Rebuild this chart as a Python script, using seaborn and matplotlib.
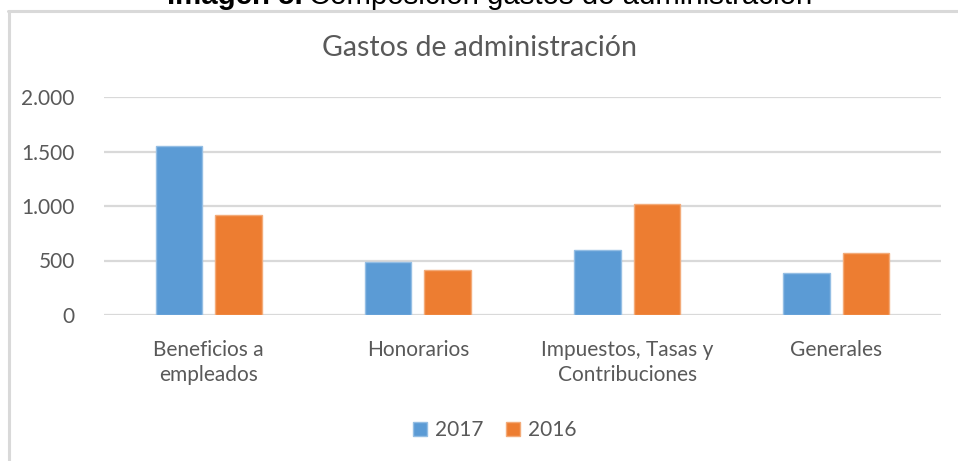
import matplotlib
matplotlib.use("Agg")
import matplotlib.pyplot as plt
from matplotlib.lines import Line2D
from matplotlib.colors import to_rgb
import pandas as pd
import seaborn as sns

categories = ["Beneficios a\nempleados", "Honorarios", "Impuestos, Tasas y\nContribuciones", "Generales"]
years = ["2017", "2016"]
values_2017 = [1555, 485, 592, 383]
values_2016 = [921, 415, 1017, 570]
yticks = [0, 500, 1000, 1500, 2000]
ytick_labels = ["0", "500", "1.000", "1.500", "2.000"]

colors = {"2017": "#5B9BD5", "2016": "#ED7D31"}
text_color = "#595959"
grid_color = "#D9D9D9"

df = pd.DataFrame({
    "categoria": categories * 2,
    "anio": ["2017"] * len(categories) + ["2016"] * len(categories),
    "valor": values_2017 + values_2016,
})

sns.set_theme(style="white")
plt.rcParams["font.family"] = ["Lato", "DejaVu Sans"]

W, H = 958, 461
fig = plt.figure(figsize=(W / 100, H / 100), dpi=100)
fig.patch.set_facecolor("white")

ax = fig.add_axes([104 / W, 1 - 315 / H, (941 - 104) / W, (315 - 97) / H])
sns.barplot(data=df, x="categoria", y="valor", hue="anio", hue_order=years,
            palette=colors, width=0.57, gap=0.22, ax=ax, errorbar=None,
            saturation=1, linewidth=1)

# lighter edge like the original
for p in ax.patches:
    r, g, b = to_rgb(p.get_facecolor())
    p.set_edgecolor((r + (1 - r) * 0.35, g + (1 - g) * 0.35, b + (1 - b) * 0.35))

ax.set_ylim(0, 2000)
ax.set_xlim(-0.5, len(categories) - 0.5)
ax.set_yticks(yticks)
ax.set_yticklabels(ytick_labels)
ax.yaxis.grid(True, color=grid_color, linewidth=1.6)
ax.set_axisbelow(True)
for s in ax.spines.values():
    s.set_visible(False)
ax.set_xlabel("")
ax.set_ylabel("")
ax.tick_params(axis="y", length=0, pad=21, labelsize=15, labelcolor=text_color)
ax.tick_params(axis="x", length=0, pad=18, labelsize=15, labelcolor=text_color)
for lbl in ax.get_xticklabels():
    lbl.set_linespacing(1.3)
    lbl.set_va("top")

handles, labels = ax.get_legend_handles_labels()
ax.get_legend().remove()
fig.legend(handles, labels, loc="center", bbox_to_anchor=(495 / W, 1 - 430 / H),
           ncol=2, frameon=False, fontsize=15, labelcolor=text_color,
           handlelength=0.65, handleheight=0.65, handletextpad=0.4, columnspacing=1.1)

fig.text(480 / W, 1 - 48 / H, "Gastos de administración", ha="center", va="center",
         fontsize=20.5, color=text_color)

# chart frame (top and left border)
fig.add_artist(Line2D([8 / W, 1], [1 - 11 / H, 1 - 11 / H], transform=fig.transFigure,
                      color=grid_color, linewidth=2.2))
fig.add_artist(Line2D([9 / W, 9 / W], [0, 1 - 11 / H], transform=fig.transFigure,
                      color=grid_color, linewidth=2.2))

# caption cut off at the top of the picture, as in the source
t1 = fig.text(167 / W, 1 - 4 / H, "Imagen 5.", ha="left", va="baseline",
              fontsize=21.2, fontweight="bold", color="black", family="Liberation Sans")
fig.canvas.draw()
bb = t1.get_window_extent()
fig.text((bb.x1 + 6) / W, 1 - 4 / H, "Composición gastos de administración", ha="left",
         va="baseline", fontsize=21.2, color="black", family="Liberation Sans")

fig.savefig("out.png", dpi=100, facecolor="white")
